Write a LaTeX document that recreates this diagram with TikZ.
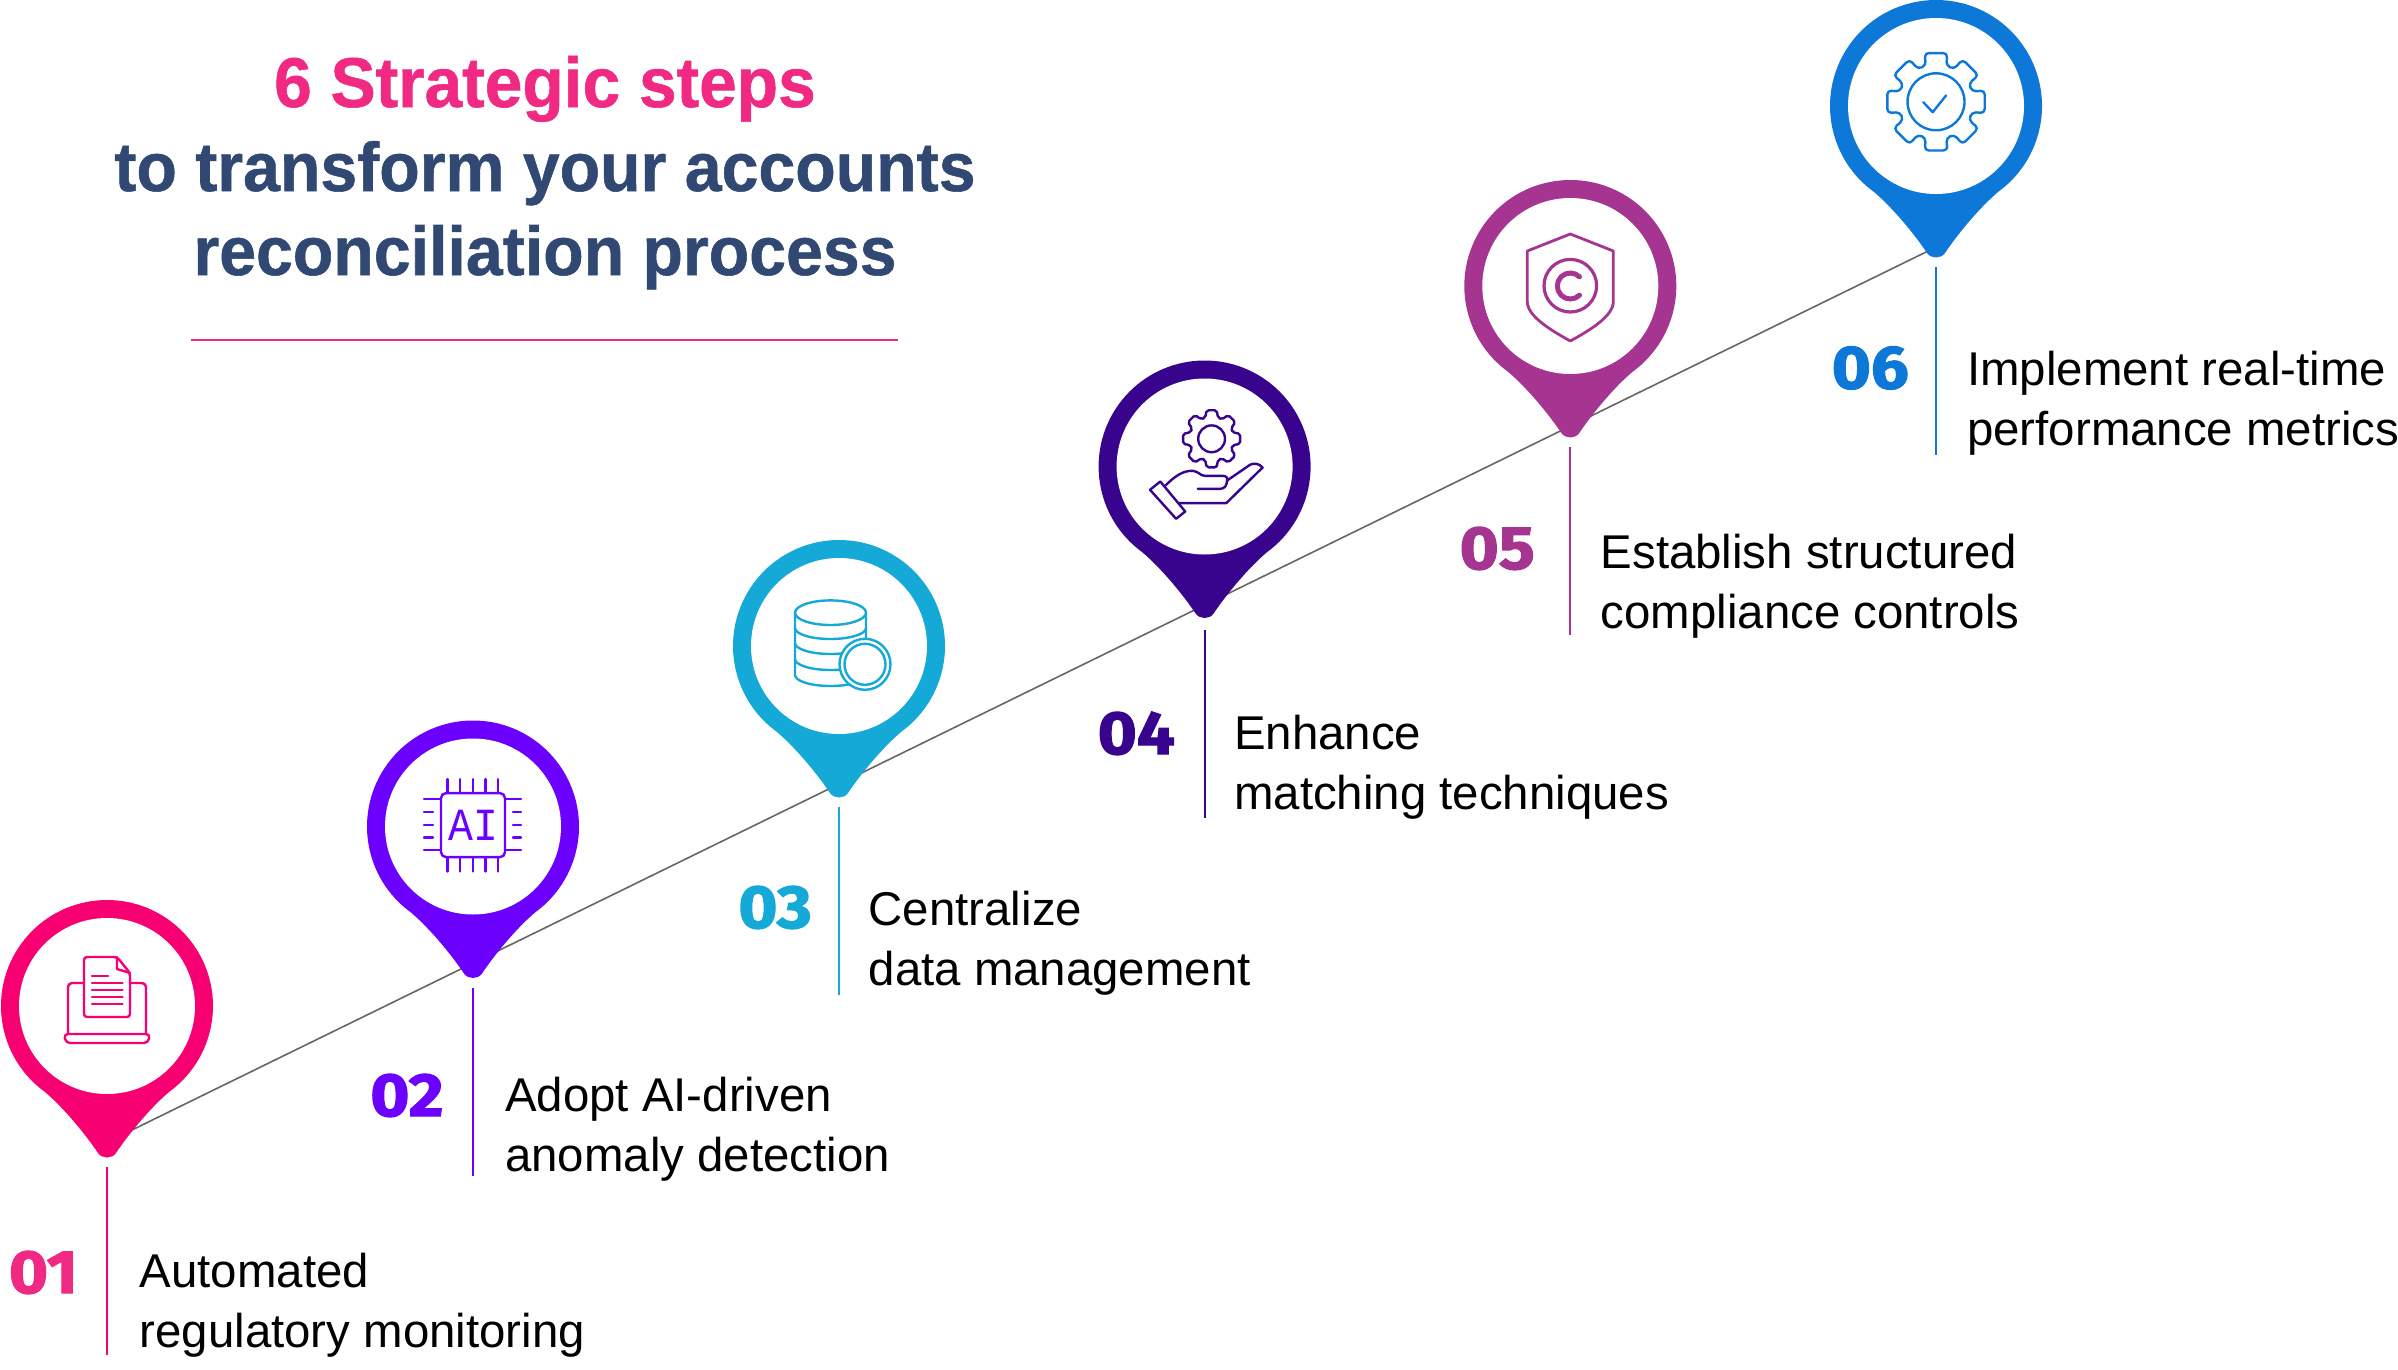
\documentclass[tikz,border=0pt]{standalone}
\usepackage{fontspec}
\setmainfont{Liberation Sans}
\newfontfamily\titlefont{Liberation Sans}[BoldFeatures={FakeBold=0.8,FakeStretch=0.96}]
\newfontfamily\numfont{Fira Sans}[BoldFeatures={FakeBold=2,FakeStretch=1.1}]
\newfontfamily\chipfont{Liberation Mono}[FakeStretch=0.9]
\definecolor{pinone}{HTML}{F70072}
\definecolor{pintwo}{HTML}{6C00FF}
\definecolor{pinthree}{HTML}{14A9D6}
\definecolor{pinfour}{HTML}{38048D}
\definecolor{pinfive}{HTML}{A63592}
\definecolor{pinsix}{HTML}{0E78D8}
\definecolor{titlepink}{HTML}{F02A82}
\definecolor{titlenavy}{HTML}{304872}
\definecolor{stepline}{HTML}{666666}
\tikzset{
	stepnum/.style = {inner sep=0, anchor=base east, font=\numfont\bfseries\fontsize{61}{61}\selectfont},
	steptext/.style = {inner sep=0, anchor=base west, align=left, text=black, font=\fontsize{47.4}{60}\selectfont},
	icon/.style = {line width=2.4pt, line join=round, line cap=round}
}
\begin{document}
\begin{tikzpicture}[x=1pt, y=-1pt]
	\useasboundingbox (0,0) rectangle (2398,1370);
	\fill[white] (0,0) rectangle (2398,1370);
	% title
	\node[inner sep=0, align=center, font=\titlefont\bfseries\fontsize{69}{84}\selectfont, text=titlenavy, anchor=base] (title) at (545,275)
		{\textcolor{titlepink}{\fontsize{70.5}{84}\selectfont 6 Strategic steps}\\to transform your accounts\\reconciliation process};
	\coordinate (rulea) at (190.5,340);
	\coordinate (ruleb) at (898,340);
	\draw[titlepink, line width=1.8pt] (rulea) -- (ruleb);
	% the long line behind the pins
	\coordinate (linea) at (130.5,1130.7);
	\coordinate (lineb) at (1926.7,251.7);
	\draw[stepline, line width=1.6pt] (linea) -- (lineb);
	% pins and their vertical lines
	\foreach \i/\col/\cx/\cy/\s in {1/pinone/107/1006/0, 2/pintwo/473/826.5/0, 3/pinthree/839/646/0, 4/pinfour/1204.6/466.5/2.5, 5/pinfive/1570.3/286/0, 6/pinsix/1936/106/0} {
		\coordinate (pin\i) at (\cx,\cy);
		\begin{scope}[shift={(pin\i)}]
			\fill[\col] (126:106) arc[start angle=126, end angle=414, radius=106]
				.. controls (43,102) and (21,129) .. (9,147)
				.. controls (5,153) and (-5,153) .. (-9,147)
				.. controls (-21,129) and (-43,102) .. cycle;
			\fill[white] (0,0) circle[radius=88];
			\coordinate (stem\i a) at (0,161+\s);
			\coordinate (stem\i b) at (0,349+\s);
		\end{scope}
		\draw[\col, line width=2pt] (stem\i a) -- (stem\i b);
	}
	% icon laptop
	\begin{scope}[shift={(pin1)}, icon, pinone]
		\draw[rounded corners=4pt] (-39,28) -- (-39,-23) -- (39,-23) -- (39,28);
		\draw[rounded corners=4pt] (-43,28) -- (43,28) -- (41,37) -- (-41,37) -- cycle;
		\draw[fill=white, rounded corners=3pt] (-23,-49) -- (10,-49) -- (23,-33) -- (23,11) -- (-23,11) -- cycle;
		\draw (10,-49) -- (10,-37) -- (23,-33);
		\draw (-15,-30) -- (1,-30);
		\foreach \y in {-23,-16,-9,-2} { \draw (-15,\y) -- (15.5,\y); }
	\end{scope}
	% icon chip
	\begin{scope}[shift={(pin2)}, icon, pintwo]
		\draw[rounded corners=5pt] (-32,-33.4) rectangle (32,30.6);
		\foreach \x in {-25.5,-13,0,12.6,25} {
			\draw (\x,-47.4) -- (\x,-34);
			\draw (\x,31) -- (\x,45);
		}
		\foreach \y in {-14.4,-1.7,11} {
			\draw (-49,\y) -- (-40,\y);
			\draw (40,\y) -- (48,\y);
		}
		\foreach \y in {-27.4,23.6} {
			\draw (-49,\y) -- (-32,\y);
			\draw (32,\y) -- (48,\y);
		}
		\node[inner sep=0, text=pintwo, font=\chipfont\fontsize{46}{46}\selectfont] (chiplabel) at (0,-1.5) {AI};
	\end{scope}
	% icon database
	\begin{scope}[shift={(pin3)}, icon, pinthree]
		\draw (-44,-33.3) -- (-44,29) arc[start angle=180, end angle=0, x radius=35.5, y radius=11] -- (27,-33.3);
		\draw (-8.5,-33.3) ellipse[x radius=35.5, y radius=12.3];
		\foreach \y in {-18,-3,13} {
			\draw (-44,\y) arc[start angle=180, end angle=0, x radius=35.5, y radius=11];
		}
		\draw[fill=white] (26,18.3) circle[radius=25.5];
		\draw (26,18.3) circle[radius=20.5];
	\end{scope}
	% icon hand and gear
	\begin{scope}[shift={(pin4)}, icon, pinfour]
		\begin{scope}[shift={(7,-27.7)}]
			\draw[rounded corners=2pt] (80:29)
				\foreach \a in {90,135,...,405} { -- (\a-10:29) -- (\a+10:29) -- (\a+17:22) -- (\a+28:22) } -- cycle;
			\draw (0,0) circle[radius=13.4];
		\end{scope}
		\draw (-54.6,23.3) -- (-44.3,15) -- (-19.4,45) -- (-28.5,52.3) -- cycle;
		\draw (-39.2,19) .. controls (-30,10) and (-22,4) .. (-11.9,4.3)
			.. controls (-6,5) and (-4,9.3) .. (0,9.3) -- (17.7,9.3)
			.. controls (22,9.3) and (24,12) .. (22.5,15);
		\draw (-6.8,22.3) -- (15.8,22.3) .. controls (20,22.3) and (22.5,19) .. (22.5,13);
		\draw (22.5,14) -- (45.4,-1.7) .. controls (49,-3.5) and (54,-3.5) .. (58,1)
			-- (21.7,36.6) -- (-25.8,36.6);
	\end{scope}
	% icon shield
	\begin{scope}[shift={(pin5)}, icon, pinfive]
		\draw[line width=2.8pt] (0,-52) -- (43,-35) -- (43,15.7) .. controls (43,30) and (20,44) .. (0,55)
			.. controls (-20,44) and (-43,30) .. (-43,15.7) -- (-43,-35) -- cycle;
		\draw[line width=3.2pt] (0,-0.3) circle[radius=26.3];
		\draw[line width=5pt] (45:13) arc[start angle=45, end angle=315, radius=13];
	\end{scope}
	% icon gear and tick
	\begin{scope}[shift={(pin6)}, icon, pinsix]
		\begin{scope}[shift={(0,-4.2)}]
			\draw[rounded corners=4pt] (77:50)
				\foreach \a in {90,135,...,405} { -- (\a-13:50) -- (\a+13:50) -- (\a+16:37.5) -- (\a+29:37.5) } -- cycle;
			\draw (0,0) circle[radius=28.5];
		\end{scope}
		\draw (-12.7,-3.8) -- (-3.3,6.2) -- (10,-10.5);
	\end{scope}
	% numbers
	\node[stepnum, text=titlepink] (num1) at (78,1293) {01};
	\node[stepnum, text=pintwo] (num2) at (443.7,1116) {02};
	\node[stepnum, text=pinthree] (num3) at (812,928) {03};
	\node[stepnum, text=pinfour] (num4) at (1175,754) {04};
	\node[stepnum, text=pinfive] (num5) at (1535,569) {05};
	\node[stepnum, text=pinsix] (num6) at (1909,388.5) {06};
	% step texts
	\node[steptext] (text1) at (139.5,1347) {Automated\\regulatory monitoring};
	\node[steptext] (text2) at (505,1171.5) {Adopt AI-driven\\anomaly detection};
	\node[steptext] (text3) at (868.5,985) {Centralize\\data management};
	\node[steptext] (text4) at (1234,809.5) {Enhance\\matching techniques};
	\node[steptext] (text5) at (1600.5,628) {Establish structured\\compliance controls};
	\node[steptext] (text6) at (1967,445.5) {Implement real-time\\performance metrics};
\end{tikzpicture}
\end{document}
